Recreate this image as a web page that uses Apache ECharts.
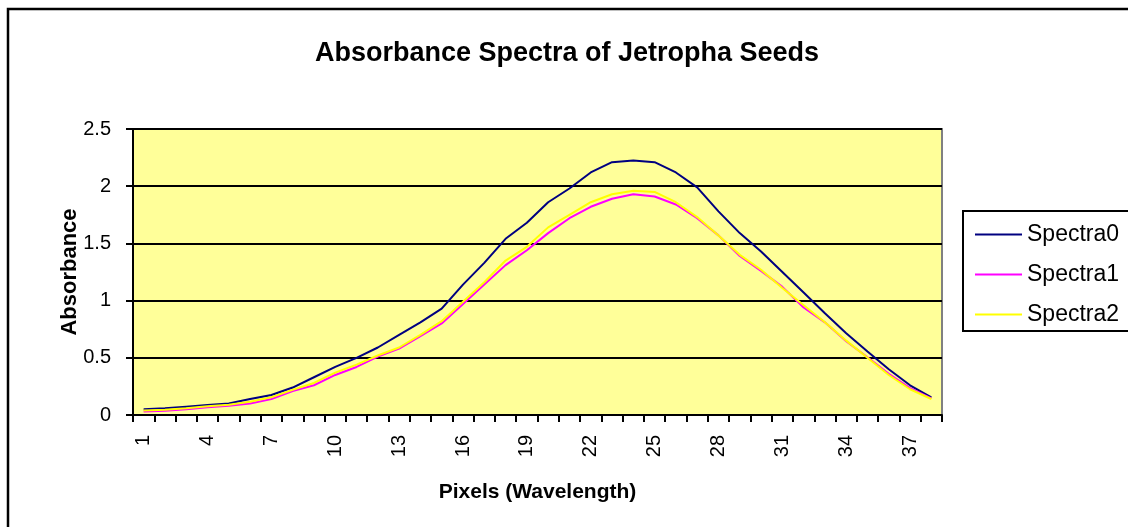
<!DOCTYPE html>
<html>
<head>
<meta charset="utf-8">
<script src="https://cdn.jsdelivr.net/npm/echarts@6/dist/echarts.min.js"></script>
<style>
  html, body { margin: 0; padding: 0; background: #fff; }
  #main { width: 1128px; height: 527px; }
</style>
</head>
<body>
<div id="main"></div>
<script>
// x categories (pixel index)
var pixels = ['1','2','3','4','5','6','7','8','9','10','11','12','13','14','15','16','17','18','19',
              '20','21','22','23','24','25','26','27','28','29','30','31','32','33','34','35','36','37','38'];
// absorbance values
var spectra0 = [0.05, 0.058, 0.073, 0.088, 0.10, 0.14, 0.175, 0.24, 0.33, 0.42,
                0.50, 0.59, 0.70, 0.81, 0.93, 1.14, 1.33, 1.54, 1.68, 1.86,
                1.98, 2.12, 2.21, 2.225, 2.21, 2.12, 1.99, 1.78, 1.59, 1.43,
                1.25, 1.07, 0.89, 0.715, 0.555, 0.40, 0.26, 0.155];
var spectra1 = [0.03, 0.038, 0.05, 0.067, 0.08, 0.10, 0.14, 0.21, 0.26, 0.35,
                0.42, 0.51, 0.58, 0.69, 0.80, 0.97, 1.14, 1.31, 1.44, 1.59,
                1.72, 1.82, 1.89, 1.93, 1.91, 1.84, 1.72, 1.57, 1.39, 1.26,
                1.12, 0.94, 0.81, 0.645, 0.505, 0.36, 0.235, 0.146];
var spectra2 = [0.04, 0.045, 0.058, 0.076, 0.09, 0.115, 0.155, 0.22, 0.28, 0.37,
                0.44, 0.52, 0.59, 0.70, 0.82, 0.99, 1.16, 1.35, 1.47, 1.64,
                1.75, 1.86, 1.93, 1.96, 1.95, 1.86, 1.73, 1.57, 1.40, 1.27,
                1.11, 0.96, 0.81, 0.65, 0.50, 0.35, 0.225, 0.14];
var seriesNames = ['Spectra0', 'Spectra1', 'Spectra2'];
var seriesColors = ['#000080', '#FF00FF', '#FFFF00'];

var font = 'Liberation Sans, Arial, sans-serif';
var myChart = echarts.init(document.getElementById('main'));

var seriesData = [spectra0, spectra1, spectra2];
var series = [];
for (var i = 0; i < seriesNames.length; i++) {
    series.push({
        name: seriesNames[i],
        type: 'line',
        data: seriesData[i],
        symbol: 'none',
        lineStyle: { color: seriesColors[i], width: 2 },
        itemStyle: { color: seriesColors[i] },
        z: 3 + i
    });
}

var option = {
    animation: false,
    backgroundColor: '#ffffff',
    title: {
        text: 'Absorbance Spectra of Jetropha Seeds',
        left: 562,
        top: 35,
        textAlign: 'center',
        textStyle: { fontFamily: font, fontSize: 27, fontWeight: 'bold', color: '#000' }
    },
    graphic: [
        // outer chart frame
        { type: 'rect', shape: { x: 8, y: 9, width: 1200, height: 600 },
          style: { fill: 'none', stroke: '#000', lineWidth: 2.5 }, z: 0 },
        // legend box
        { type: 'rect', shape: { x: 963, y: 211, width: 200, height: 120 },
          style: { fill: '#fff', stroke: '#000', lineWidth: 2 }, z: 0 }
    ],
    legend: {
        orient: 'vertical',
        left: 970,
        top: 218,
        itemWidth: 47,
        itemHeight: 2,
        itemGap: 17,
        icon: 'rect',
        data: seriesNames,
        textStyle: { fontFamily: font, fontSize: 23, color: '#000' },
        z: 10
    },
    grid: {
        left: 133,
        right: 186,
        top: 129,
        bottom: 112,
        show: true,
        backgroundColor: '#FFFF99',
        borderColor: '#808080',
        borderWidth: 2
    },
    xAxis: {
        type: 'category',
        data: pixels,
        boundaryGap: true,
        name: 'Pixels (Wavelength)',
        nameLocation: 'middle',
        nameGap: 67,
        nameTextStyle: { fontFamily: font, fontSize: 21, fontWeight: 'bold', color: '#000' },
        axisLine: { lineStyle: { color: '#000', width: 2 } },
        axisTick: { show: true, interval: 0, length: 7, lineStyle: { color: '#000', width: 2 } },
        axisLabel: { interval: 2, rotate: 90, margin: 20, fontFamily: font, fontSize: 20, color: '#000' },
        splitLine: { show: false }
    },
    yAxis: {
        type: 'value',
        min: 0,
        max: 2.5,
        interval: 0.5,
        name: 'Absorbance',
        nameLocation: 'middle',
        nameGap: 52,
        nameMoveOverlap: false,
        nameTextStyle: { fontFamily: font, fontSize: 22, fontWeight: 'bold', color: '#000' },
        axisLine: { show: true, lineStyle: { color: '#000', width: 2 } },
        axisTick: { show: true, length: 7, lineStyle: { color: '#000', width: 2 } },
        axisLabel: { margin: 22, fontFamily: font, fontSize: 20, color: '#000' },
        splitLine: { show: true, lineStyle: { color: '#000', width: 2 } }
    },
    series: series
};

myChart.setOption(option);
</script>
</body>
</html>
